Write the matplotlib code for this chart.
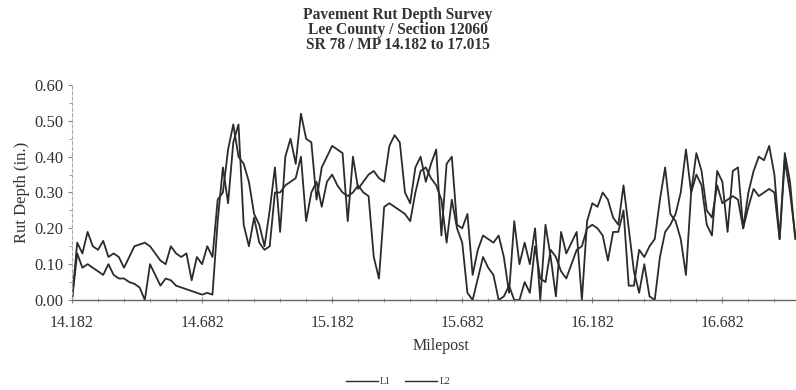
import numpy as np
import matplotlib
matplotlib.use("Agg")
import matplotlib.pyplot as plt
from matplotlib.ticker import MultipleLocator, FixedLocator

plt.rcParams['font.family'] = ['Liberation Serif', 'DejaVu Serif']

title_lines = ["Pavement Rut Depth Survey", "Lee County / Section 12060", "SR 78 / MP 14.182 to 17.015"]
x_label = "Milepost"
y_label = "Rut Depth (in.)"
series_names = ["L1", "L2"]

mp_start = 14.182
mp_end = 17.015
mp_step = 0.02

L1 = [0.00, 0.16, 0.13, 0.19, 0.15, 0.14, 0.165, 0.12, 0.13, 0.12, 0.09, 0.12, 0.15, 0.155, 0.16, 0.15, 0.13, 0.11, 0.10, 0.15, 0.13, 0.12, 0.13, 0.055, 0.12, 0.10, 0.15, 0.12,
      0.28, 0.30, 0.42, 0.49, 0.40, 0.38, 0.33, 0.24, 0.21, 0.15, 0.25, 0.37, 0.19, 0.40, 0.45, 0.38, 0.52, 0.45, 0.44, 0.28,
      0.37, 0.40, 0.43, 0.42, 0.41, 0.22, 0.40, 0.31, 0.33, 0.35, 0.36, 0.34, 0.33, 0.43, 0.46, 0.44, 0.30, 0.27, 0.37, 0.40,
      0.33, 0.38, 0.42, 0.18, 0.38, 0.40, 0.21, 0.20, 0.24, 0.07, 0.14, 0.18, 0.17, 0.16, 0.18, 0.12, 0.02, 0.22, 0.10, 0.16,
      0.10, 0.20, 0.00, 0.21, 0.12, 0.01, 0.19, 0.13, 0.16, 0.19, 0.00, 0.22, 0.27, 0.26, 0.30, 0.28, 0.23, 0.21, 0.32, 0.20,
      0.08, 0.02, 0.10, 0.01, 0.00, 0.12, 0.19, 0.21, 0.24, 0.30, 0.42, 0.30, 0.41, 0.36, 0.25, 0.23, 0.32, 0.27, 0.28, 0.29,
      0.28, 0.20, 0.26, 0.31, 0.29, 0.30, 0.31, 0.30, 0.17, 0.39, 0.30, 0.18, 0.17, 0.20]

L2 = [0.00, 0.13, 0.09, 0.10, 0.09, 0.08, 0.07, 0.10, 0.07, 0.06, 0.06, 0.05, 0.045, 0.035, 0.00, 0.10, 0.07, 0.04, 0.06, 0.055, 0.04, 0.035, 0.03, 0.025, 0.02, 0.015, 0.02, 0.015,
      0.22, 0.37, 0.27, 0.44, 0.49, 0.21, 0.15, 0.23, 0.16, 0.14, 0.15, 0.30, 0.30, 0.32, 0.33, 0.34, 0.40, 0.22, 0.30, 0.33,
      0.26, 0.33, 0.35, 0.32, 0.30, 0.29, 0.30, 0.32, 0.30, 0.29, 0.12, 0.06, 0.26, 0.27, 0.26, 0.25, 0.24, 0.22, 0.30, 0.36,
      0.37, 0.34, 0.32, 0.28, 0.16, 0.28, 0.20, 0.16, 0.02, 0.00, 0.06, 0.12, 0.09, 0.07, 0.00, 0.01, 0.04, 0.00, 0.00, 0.05,
      0.02, 0.15, 0.06, 0.05, 0.14, 0.12, 0.08, 0.06, 0.10, 0.14, 0.15, 0.20, 0.21, 0.20, 0.18, 0.11, 0.19, 0.19, 0.25, 0.04,
      0.04, 0.14, 0.12, 0.15, 0.17, 0.28, 0.37, 0.24, 0.22, 0.17, 0.07, 0.30, 0.35, 0.32, 0.21, 0.18, 0.36, 0.33, 0.19, 0.36,
      0.37, 0.20, 0.30, 0.36, 0.40, 0.39, 0.43, 0.35, 0.17, 0.41, 0.33, 0.17, 0.18, 0.19]

x_tick_values = [14.182, 14.682, 15.182, 15.682, 16.182, 16.682]
x_tick_labels = ["14.182", "14.682", "15.182", "15.682", "16.182", "16.682"]
y_tick_values = [0.0, 0.1, 0.2, 0.3, 0.4, 0.5, 0.6]
y_tick_labels = ["0.00", "0.10", "0.20", "0.30", "0.40", "0.50", "0.60"]

mileposts = np.round(mp_start + mp_step * np.arange(len(L1)), 3)

text_c = '#333333'
line_c = '#2b2b2b'

fig = plt.figure(figsize=(7.96, 3.90), dpi=100)
ax = fig.add_axes([72/796, 90/390, 737/796, 215/390])

ax.plot(mileposts, L1, color=line_c, lw=1.3, label=series_names[0])
ax.plot(mileposts, L2, color=line_c, lw=1.3, label=series_names[1])

ax.set_xlim(mp_start, mp_end)
ax.set_ylim(0, 0.6)
ax.set_xticks(x_tick_values)
ax.set_xticklabels(x_tick_labels)
ax.set_yticks(y_tick_values)
ax.set_yticklabels(y_tick_labels)
ax.xaxis.set_minor_locator(FixedLocator(np.round(mp_start + 0.1 * np.arange(1, 29), 3)))
ax.yaxis.set_minor_locator(MultipleLocator(0.05))

for s in ['top', 'right']:
    ax.spines[s].set_visible(False)
ax.spines['left'].set_color('#aaaaaa')
ax.spines['left'].set_linestyle((0, (3, 2)))
ax.spines['left'].set_linewidth(0.8)
ax.spines['bottom'].set_color('#666666')
ax.spines['bottom'].set_linewidth(1.0)

ax.tick_params(axis='both', which='both', colors='#888888', labelcolor=text_c)
ax.tick_params(axis='y', which='major', length=3, width=0.8, pad=3, labelsize=12)
ax.tick_params(axis='y', which='minor', length=2, width=0.6)
ax.tick_params(axis='x', which='major', length=4, width=0.8, direction='inout', pad=9, labelsize=11.5)
ax.tick_params(axis='x', which='minor', length=3, width=0.6, direction='inout')

ax.set_xlabel(x_label, fontsize=11.5, color=text_c, labelpad=5)
ax.set_ylabel(y_label, fontsize=12, color=text_c, labelpad=3)

for k, line in enumerate(title_lines):
    fig.text(0.5, 1 - (15 + 15 * k) / 390, line, ha='center', va='center',
             fontsize=11.2, fontweight='bold', color=text_c)

leg = fig.legend(loc='center', bbox_to_anchor=(0.5, 1 - 382/390), ncol=2, frameon=False,
                 fontsize=7, handlelength=3.3, handletextpad=0.2, columnspacing=1.5)
for t in leg.get_texts():
    t.set_color(text_c)
for h in leg.get_lines():
    h.set_linewidth(1.0)

fig.savefig('out.png', dpi=100)
